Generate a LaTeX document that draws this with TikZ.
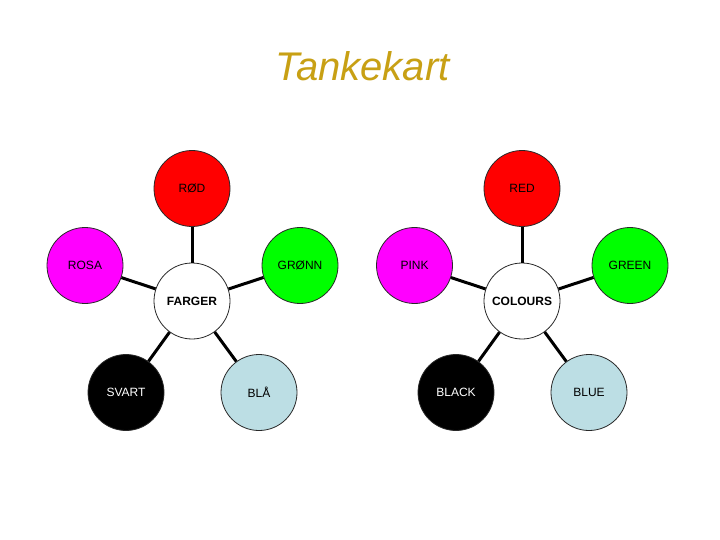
\documentclass[tikz,border=0pt]{standalone}
\usepackage{fontspec}
\setmainfont{Liberation Sans}
\definecolor{titlegold}{RGB}{200,160,20}
\definecolor{cred}{RGB}{255,0,0}
\definecolor{cmag}{RGB}{255,0,255}
\definecolor{cgreen}{RGB}{0,255,0}
\definecolor{cblue}{RGB}{188,222,228}
\definecolor{rimgray}{RGB}{40,40,40}
\tikzset{
  bubble/.style={circle, draw=rimgray, line width=0.8pt, minimum size=76pt, inner sep=0pt, font=\fontsize{12}{14}\selectfont},
  hub/.style={bubble, fill=white, font=\fontsize{12}{14}\selectfont\bfseries},
  link/.style={line width=3pt, black},
}
\begin{document}
\begin{tikzpicture}[x=1pt,y=-1pt]
\useasboundingbox[fill=white] (0,0) rectangle (720,540);
\node[font=\fontsize{40}{46}\selectfont\itshape, text=titlegold, anchor=base] (title) at (362.5,81) {Tankekart};

% left cluster
\node[hub] (farger) at (192,301) {FARGER};
\node[bubble, fill=cred] (rod) at (192,188.5) {RØD};
\node[bubble, fill=cmag] (rosa) at (85,265.5) {ROSA};
\node[bubble, fill=cgreen] (gronn) at (300,265.5) {GRØNN};
\node[bubble, fill=black, text=white] (svart) at (126,392.5) {SVART};
\node[bubble, fill=cblue] (bla) at (259,392.5) {BLÅ};

% right cluster
\node[hub] (colours) at (522,301) {COLOURS};
\node[bubble, fill=cred] (red) at (522,188.5) {RED};
\node[bubble, fill=cmag] (pink) at (414.5,265.5) {PINK};
\node[bubble, fill=cgreen] (green) at (630,265.5) {GREEN};
\node[bubble, fill=black, text=white] (black) at (456,392.5) {BLACK};
\node[bubble, fill=cblue] (blue) at (589,392.5) {BLUE};

\foreach \a in {rod,rosa,gronn,svart,bla} \draw[link] (farger) -- (\a);
\foreach \a in {red,pink,green,black,blue} \draw[link] (colours) -- (\a);
\end{tikzpicture}
\end{document}
